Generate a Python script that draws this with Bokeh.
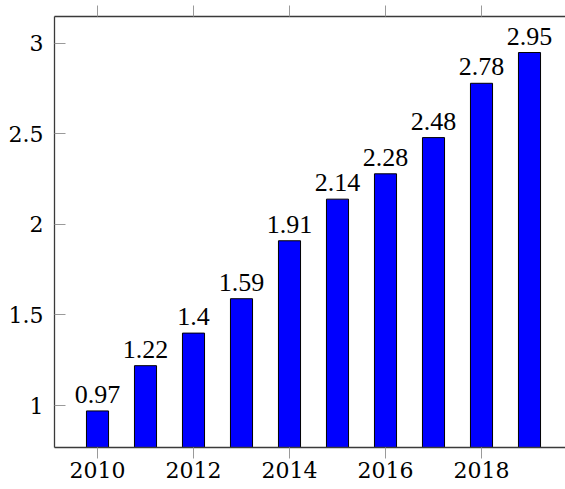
from bokeh.plotting import figure
from bokeh.models import (ColumnDataSource, LinearAxis, Range1d, FixedTicker,
                          LabelSet, CustomJSTickFormatter)
from bokeh.embed import file_html
from bokeh.resources import INLINE

years = [2010, 2011, 2012, 2013, 2014, 2015, 2016, 2017, 2018, 2019]
values = [0.97, 1.22, 1.4, 1.59, 1.91, 2.14, 2.28, 2.48, 2.78, 2.95]
x_ticks = [2010, 2012, 2014, 2016, 2018]
y_ticks = [1, 1.5, 2, 2.5, 3]

FONT = "DejaVu Serif"
FSIZE = "22px"
LSIZE = "26px"
FRAME = "#3a3a3a"
TICK = "#9a9a9a"

src = ColumnDataSource(dict(x=years, top=values,
                            label=[f"{v:g}" for v in values]))

p = figure(width=565, height=489, output_backend="svg", toolbar_location=None,
           x_range=Range1d(2009.104, 2019.75), y_range=Range1d(0.768, 3.149),
           x_axis_location=None, y_axis_location=None,
           min_border_left=54, min_border_right=0, min_border_top=16,
           min_border_bottom=42)
p.outline_line_color = None
p.xgrid.visible = False
p.ygrid.visible = False
p.background_fill_color = "white"

p.vbar(x="x", top="top", bottom=0, width=0.46, source=src,
       fill_color="#0000ff", line_color="black", line_width=1)

p.add_layout(LabelSet(x="x", y="top", text="label", source=src, y_offset=8,
                      text_align="center", text_baseline="alphabetic",
                      text_font=FONT, text_font_size=LSIZE, text_color="black"))

def style(ax):
    ax.axis_line_color = FRAME
    ax.axis_line_width = 1.3
    ax.major_tick_line_color = TICK
    ax.major_tick_line_width = 1
    ax.minor_tick_line_color = None
    ax.major_label_text_font = FONT
    ax.major_label_text_font_size = FSIZE
    ax.major_label_text_color = "black"

bottom = LinearAxis(ticker=FixedTicker(ticks=x_ticks),
                    formatter=CustomJSTickFormatter(code="return tick.toString();"))
style(bottom)
bottom.major_tick_out = 11
bottom.major_tick_in = 0
bottom.major_label_standoff = 3
p.add_layout(bottom, "below")

top = LinearAxis(ticker=FixedTicker(ticks=x_ticks),
                 formatter=CustomJSTickFormatter(code="return '';"))
style(top)
top.major_tick_out = 11
top.major_tick_in = 0
top.major_label_standoff = 0
top.major_label_text_font_size = "1px"
p.add_layout(top, "above")

left = LinearAxis(ticker=FixedTicker(ticks=y_ticks),
                  formatter=CustomJSTickFormatter(code="return tick.toString();"))
style(left)
left.major_tick_out = 0
left.major_tick_in = 11
left.major_label_standoff = 11
p.add_layout(left, "left")

open("out.html", "w").write(file_html(p, INLINE))
